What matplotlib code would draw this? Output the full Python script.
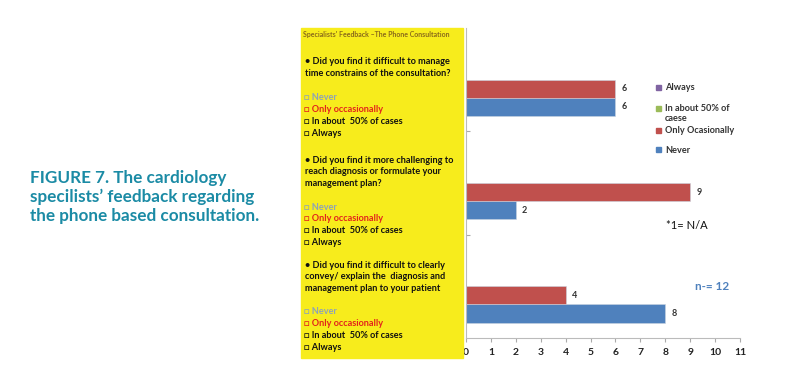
import matplotlib.pyplot as plt
from matplotlib.patches import Rectangle

# data
questions = ["Q1 time constraints", "Q2 diagnosis / plan", "Q3 explain to patient"]
never = [6, 2, 8]
only_occ = [6, 9, 4]
about_50 = [0, 0, 0]
always = [0, 0, 0]
x_ticks = list(range(0, 12))
legend_labels = ["Always", "In about 50% of\ncaese", "Only Ocasionally", "Never"]

C_NEVER = "#4f81bd"
C_ONLY = "#c0504d"
C_50 = "#9bbb59"
C_ALWAYS = "#8064a2"

W, H = 809, 373
fig = plt.figure(figsize=(W / 100, H / 100), dpi=100)
plt.rcParams['font.family'] = ['Lato', 'DejaVu Sans']

def fx(px):
    return px / W

def fy(py):
    return 1 - py / H

# yellow question panel
fig.patches.append(Rectangle((fx(301), fy(358)), fx(463) - fx(301), fy(28) - fy(358),
                             transform=fig.transFigure, color="#f7ec1c", zorder=0))

ax = fig.add_axes([fx(466), fy(338), fx(740) - fx(466), fy(28) - fy(338)])

# category positions, top question at the top
pos = [2, 1, 0]
h = 0.175
series = [(never, C_NEVER, -1.5), (only_occ, C_ONLY, -0.5),
          (about_50, C_50, 0.5), (always, C_ALWAYS, 1.5)]
for vals, col, off in series:
    ys = [p + off * h for p in pos]
    ax.barh(ys, vals, height=h, color=col, edgecolor="#c9d3e0", linewidth=0.4)

for vals, off in [(never, -1.5), (only_occ, -0.5)]:
    for p, v in zip(pos, vals):
        ax.text(v + 0.25, p + off * h, str(v), va="center", ha="left",
                fontsize=6.5, color="#333333", fontweight="bold")

ax.set_xlim(0, 11)
ax.set_ylim(-0.5, 2.5)
ax.set_xticks(x_ticks)
ax.set_xticklabels([str(t) for t in x_ticks], fontsize=7.5, color="#222222",
                   fontweight="bold")
ax.set_yticks([0.5, 1.5])
ax.set_yticklabels([])
ax.tick_params(axis="x", length=3, color="#aaaaaa", pad=4)
ax.tick_params(axis="y", length=3, color="#aaaaaa", direction="in")
for s in ["top", "right"]:
    ax.spines[s].set_visible(False)
for s in ["left", "bottom"]:
    ax.spines[s].set_color("#bbbbbb")
    ax.spines[s].set_linewidth(0.8)

# legend, drawn by hand (uneven spacing as in the original)
leg_cols = [C_ALWAYS, C_50, C_ONLY, C_NEVER]
leg_y = [87, 108, 130, 150]
for lab, col, y in zip(legend_labels, leg_cols, leg_y):
    fig.patches.append(Rectangle((fx(656), fy(y + 2.5)), fx(5), 5 / H,
                                 transform=fig.transFigure, color=col))
    fig.text(fx(665), fy(y - 4), lab, fontsize=6.6, fontweight="bold",
             color="#333333", va="top", linespacing=1.1)

fig.text(fx(666), fy(226), "*1= N/A", fontsize=8, color="#111111", va="center")
fig.text(fx(695), fy(287), "n-= 12", fontsize=8.5, color=C_NEVER, va="center",
         fontweight="bold")

# panel text
fig.text(fx(303), fy(34), "Specialists' Feedback \u2013The Phone Consultation",
         fontsize=5.0, color="#8a6a1a", fontweight="bold", va="center")

q_lines = [
    ["\u2022 Did you find it difficult to manage",
     "time constrains of the consultation?"],
    ["\u2022 Did you find it more challenging to",
     "reach diagnosis or formulate your",
     "management plan?"],
    ["\u2022 Did you find it difficult to clearly",
     "convey/ explain the  diagnosis and",
     "management plan to your patient"],
]
q_y = [62, 160, 265]
opt_y = [98, 207, 312]
options = [("\u25a1 Never", "#8fa3b6"), ("\u25a1 Only occasionally", "#e3241b"),
           ("\u25a1 In about  50% of cases", "#111111"), ("\u25a1 Always", "#111111")]

for lines, y0, oy in zip(q_lines, q_y, opt_y):
    for i, ln in enumerate(lines):
        fig.text(fx(305), fy(y0 + i * 11.8), ln, fontsize=6.6, fontweight="bold",
                 color="#111111", va="center")
    for i, (txt, col) in enumerate(options):
        fig.text(fx(304), fy(oy + i * 11.7), txt, fontsize=6.6, fontweight="bold",
                 color=col, va="center")

# caption on the left
cap = ["FIGURE 7. The cardiology",
       "specilists\u2019 feedback regarding",
       "the phone based consultation."]
for i, ln in enumerate(cap):
    fig.text(fx(30), fy(178 + i * 19), ln, fontsize=12.3, fontweight="bold",
             color="#1b8ba5", va="center")

fig.savefig("out.png", dpi=100)
